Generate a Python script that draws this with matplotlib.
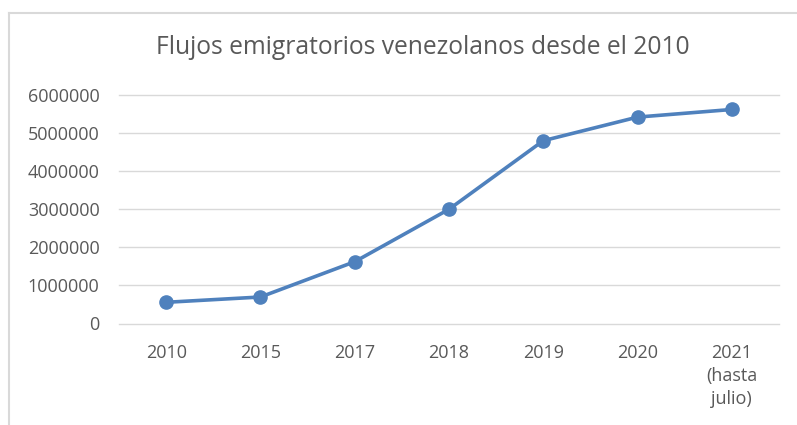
import matplotlib.pyplot as plt
from matplotlib.lines import Line2D

years = ["2010", "2015", "2017", "2018", "2019", "2020", "2021\n(hasta\njulio)"]
migrants = [556641, 695551, 1622109, 3000000, 4800000, 5420000, 5620000]
yticks = [0, 1000000, 2000000, 3000000, 4000000, 5000000, 6000000]

plt.rcParams['font.family'] = ['Open Sans', 'DejaVu Sans']
grey = '#595959'

fig = plt.figure(figsize=(7.97, 4.25), dpi=100)
ax = fig.add_axes([119/797, 1 - 323.5/425, (779 - 119)/797, (323.5 - 95)/425])

x = list(range(len(years)))
ax.plot(x, migrants, color='#4f81bd', lw=2.6, marker='o', ms=9.5,
        solid_capstyle='round', clip_on=False, zorder=3)

ax.set_xlim(-0.5, len(years) - 0.5)
ax.set_ylim(0, 6000000)
ax.set_yticks(yticks)
ax.set_yticklabels([str(v) for v in yticks])
ax.set_xticks(x)
ax.set_xticklabels(years, linespacing=1.35)
ax.grid(axis='y', color='#d9d9d9', lw=1)
for gl in ax.get_ygridlines():
    gl.set_clip_on(False)
ax.set_axisbelow(True)
for s in ax.spines.values():
    s.set_visible(False)
ax.tick_params(axis='both', length=0, labelsize=13, colors=grey)
ax.tick_params(axis='y', pad=14)
ax.tick_params(axis='x', pad=15)

fig.text(423/797, 1 - 47/425, "Flujos emigratorios venezolanos desde el 2010",
         ha='center', va='center', fontsize=17.7, color=grey)

# chart frame (cropped on right and bottom)
fig.add_artist(Line2D([8.5/797, 8.5/797], [0, 1 - 12.5/425], transform=fig.transFigure,
                      color='#d9d9d9', lw=1.5))
fig.add_artist(Line2D([8.5/797, 1], [1 - 12.5/425, 1 - 12.5/425], transform=fig.transFigure,
                      color='#d9d9d9', lw=1.5))

fig.savefig('out.png', dpi=100)
